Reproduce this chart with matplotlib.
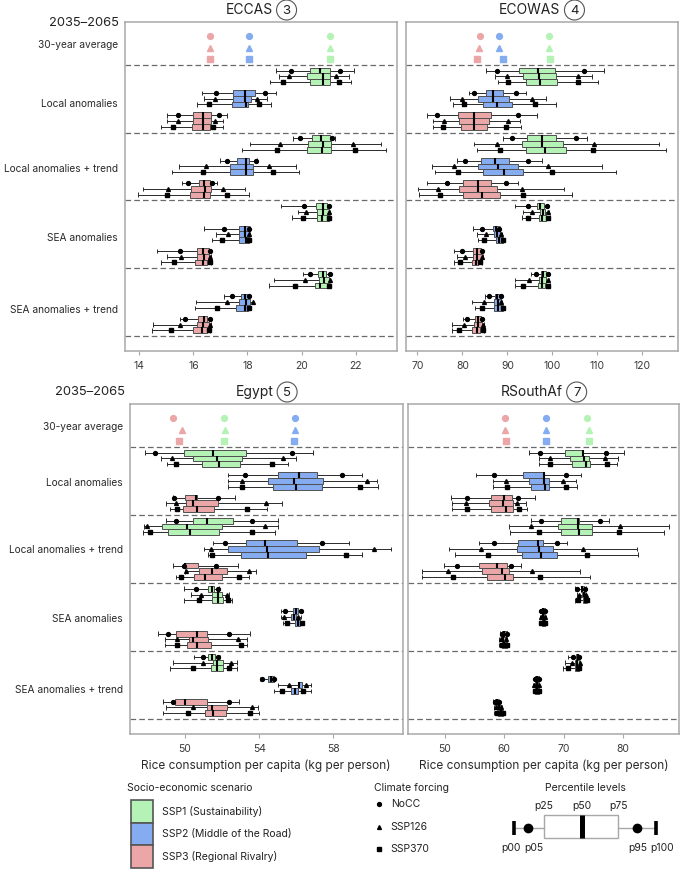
import numpy as np
import matplotlib
matplotlib.use('Agg')
import matplotlib.pyplot as plt
from matplotlib.patches import Rectangle, Circle
from matplotlib.lines import Line2D

plt.rcParams['font.family'] = ['Inter', 'DejaVu Sans']

# ---------------- data ----------------
SECTIONS = ["Local anomalies", "Local anomalies + trend", "SEA anomalies", "SEA anomalies + trend"]
SCENARIOS = ["SSP1 (Sustainability)", "SSP2 (Middle of the Road)", "SSP3 (Regional Rivalry)"]
FORCINGS = ["NoCC", "SSP126", "SSP370"]
PERCENTILES = ["p00", "p05", "p25", "p50", "p75", "p95", "p100"]
REGIONS = ["ECCAS", "ECOWAS", "Egypt", "RSouthAf"]
REGION_NUMBERS = ["3", "4", "5", "7"]
PERIOD = "2035–2065"

# rows: SSP1 x (NoCC, SSP126, SSP370), SSP2 x (...), SSP3 x (...); columns: p00 p05 p25 p50 p75 p95 p100
ECCAS_LOCAL = [
    [19.05, 19.61, 20.30, 20.69, 21.04, 21.43, 21.93],
    [19.15, 19.53, 20.20, 20.79, 21.06, 21.29, 21.74],
    [18.84, 19.33, 20.30, 20.79, 21.06, 21.39, 21.84],
    [16.31, 16.83, 17.48, 17.91, 18.29, 18.63, 19.06],
    [16.40, 16.80, 17.48, 17.91, 18.12, 18.36, 18.74],
    [16.13, 16.59, 17.44, 17.95, 18.01, 18.42, 18.87],
    [15.01, 15.44, 16.00, 16.37, 16.64, 16.93, 17.24],
    [15.04, 15.44, 16.00, 16.37, 16.64, 16.80, 17.11],
    [14.80, 15.24, 15.93, 16.35, 16.62, 16.74, 17.11],
]
ECCAS_LOCAL_TREND = [
    [19.68, 19.95, 20.39, 20.72, 21.06, 21.13, 21.22],
    [18.10, 19.21, 20.22, 20.79, 21.09, 21.89, 22.94],
    [17.81, 19.09, 20.20, 20.76, 21.10, 21.98, 23.11],
    [16.99, 17.24, 17.63, 17.95, 18.04, 18.32, 18.37],
    [15.48, 16.47, 17.36, 17.95, 18.22, 18.81, 19.80],
    [15.20, 16.35, 17.36, 17.94, 18.22, 18.94, 19.91],
    [15.58, 15.81, 16.19, 16.40, 16.62, 16.69, 16.87],
    [14.13, 15.07, 15.90, 16.43, 16.64, 17.11, 17.91],
    [13.94, 15.01, 15.88, 16.40, 16.62, 17.24, 18.04],
]
ECCAS_SEA = [
    [19.25, 20.09, 20.54, 20.79, 20.94, 21.00, 21.06],
    [19.85, 20.15, 20.57, 20.79, 21.00, 21.02, 21.06],
    [19.64, 20.05, 20.57, 20.76, 21.00, 21.02, 21.06],
    [16.41, 17.14, 17.70, 17.91, 18.04, 18.07, 18.10],
    [16.83, 17.27, 17.70, 17.91, 18.04, 18.07, 18.10],
    [16.68, 17.07, 17.70, 17.95, 18.04, 18.07, 18.10],
    [14.67, 15.51, 16.15, 16.37, 16.58, 16.62, 16.66],
    [15.01, 15.54, 16.15, 16.40, 16.58, 16.62, 16.66],
    [14.80, 15.30, 16.06, 16.35, 16.52, 16.62, 16.66],
]
ECCAS_SEA_TREND = [
    [20.07, 20.30, 20.61, 20.79, 20.91, 21.04, 21.06],
    [18.99, 20.14, 20.63, 20.84, 21.00, 21.04, 21.06],
    [18.78, 19.74, 20.48, 20.69, 20.94, 21.00, 21.06],
    [17.14, 17.44, 17.75, 17.91, 18.04, 18.04, 18.07],
    [16.10, 17.24, 17.69, 17.95, 18.10, 18.20, 18.22],
    [16.06, 16.87, 17.57, 17.89, 18.01, 18.04, 18.07],
    [15.51, 15.69, 16.16, 16.40, 16.50, 16.62, 16.66],
    [14.50, 15.51, 16.13, 16.37, 16.56, 16.62, 16.66],
    [14.46, 15.16, 15.98, 16.31, 16.50, 16.56, 16.62],
]
ECOWAS_LOCAL = [
    [85.26, 87.63, 92.59, 96.74, 100.59, 107.11, 111.48],
    [87.33, 89.85, 93.56, 97.11, 100.81, 105.78, 108.89],
    [87.85, 90.22, 94.15, 97.26, 100.96, 105.78, 110.22],
    [81.56, 82.67, 85.19, 86.89, 89.11, 91.93, 94.15],
    [77.26, 79.85, 83.56, 86.74, 90.44, 95.56, 98.52],
    [77.85, 80.37, 84.52, 87.63, 90.96, 96.15, 100.74],
    [72.07, 74.30, 78.96, 82.67, 86.30, 92.30, 96.67],
    [73.56, 75.93, 79.33, 82.67, 85.93, 90.22, 92.81],
    [73.56, 75.78, 79.70, 82.67, 85.41, 89.70, 93.04],
]
ECOWAS_LOCAL_TREND = [
    [89.11, 91.11, 94.44, 97.78, 100.81, 105.26, 107.78],
    [82.67, 87.63, 93.19, 97.63, 102.44, 109.26, 123.78],
    [83.33, 88.37, 94.07, 98.37, 102.96, 109.11, 125.19],
    [78.74, 80.59, 84.07, 87.26, 90.44, 94.67, 97.63],
    [73.19, 78.15, 83.56, 88.00, 92.44, 99.11, 111.11],
    [73.93, 79.11, 84.67, 89.26, 93.41, 100.00, 114.15],
    [72.07, 76.52, 80.07, 83.41, 86.30, 89.70, 92.44],
    [70.22, 74.52, 79.33, 83.56, 87.63, 93.33, 102.67],
    [70.44, 75.04, 80.22, 84.30, 88.37, 93.56, 104.44],
]
ECOWAS_SEA = [
    [91.70, 94.52, 96.67, 97.26, 98.15, 98.74, 99.11],
    [93.56, 95.56, 97.26, 97.85, 98.37, 99.11, 99.33],
    [93.19, 94.52, 97.11, 97.63, 98.59, 99.11, 99.48],
    [82.30, 84.30, 86.74, 87.48, 88.22, 88.22, 88.37],
    [83.33, 85.26, 87.04, 87.63, 88.37, 88.52, 88.74],
    [83.56, 84.89, 87.48, 88.22, 89.11, 89.11, 89.26],
    [78.22, 80.00, 82.44, 83.19, 84.07, 84.30, 84.52],
    [78.74, 80.59, 82.44, 83.33, 84.30, 84.30, 84.52],
    [78.22, 79.48, 82.07, 83.04, 83.56, 83.93, 84.30],
]
ECOWAS_SEA_TREND = [
    [95.19, 96.37, 97.48, 98.00, 98.59, 99.11, 99.33],
    [91.70, 94.81, 97.11, 97.78, 98.59, 99.11, 99.33],
    [91.70, 93.56, 96.74, 97.63, 98.37, 99.11, 99.48],
    [84.96, 85.93, 87.26, 87.78, 88.52, 88.52, 88.59],
    [82.07, 84.81, 87.11, 87.85, 88.59, 88.59, 88.74],
    [82.81, 84.44, 87.11, 88.00, 88.96, 88.96, 89.26],
    [80.07, 80.96, 82.81, 83.41, 84.07, 84.30, 84.52],
    [77.63, 80.44, 82.67, 83.41, 84.30, 84.52, 84.81],
    [77.63, 79.33, 82.07, 83.19, 83.93, 84.52, 84.81],
]
EGYPT_LOCAL = [
    [47.84, 48.38, 49.95, 51.49, 53.27, 55.75, 56.92],
    [48.69, 49.32, 50.45, 51.71, 53.09, 55.30, 55.98],
    [49.05, 49.51, 50.93, 51.83, 52.96, 54.67, 55.57],
    [52.30, 53.23, 55.03, 56.15, 57.13, 58.45, 59.52],
    [52.30, 53.05, 54.49, 55.88, 57.46, 59.79, 60.37],
    [52.30, 53.05, 54.76, 55.98, 57.37, 59.43, 60.42],
    [49.34, 49.41, 50.00, 50.59, 50.63, 51.80, 52.70],
    [48.98, 49.51, 50.04, 50.41, 51.80, 54.35, 55.21],
    [49.19, 49.55, 49.91, 50.66, 51.56, 53.32, 54.40],
]
EGYPT_LOCAL_TREND = [
    [48.96, 49.50, 50.45, 51.17, 52.57, 53.59, 55.03],
    [47.79, 47.93, 48.74, 50.09, 52.01, 54.31, 55.00],
    [47.72, 48.11, 49.10, 50.27, 51.83, 53.59, 54.85],
    [51.49, 52.16, 53.29, 54.31, 56.06, 57.37, 58.86],
    [51.02, 51.38, 52.34, 54.40, 57.22, 60.21, 61.09],
    [51.26, 51.44, 53.00, 54.49, 56.50, 58.66, 59.52],
    [49.37, 49.96, 50.00, 50.02, 50.68, 51.67, 52.84],
    [50.00, 50.05, 50.77, 51.47, 52.28, 53.47, 53.83],
    [49.50, 49.77, 50.50, 51.08, 52.01, 52.93, 53.47],
]
EGYPT_SEA = [
    [49.95, 50.59, 51.26, 51.44, 51.58, 51.80, 51.83],
    [50.31, 50.86, 51.47, 51.80, 51.98, 52.28, 52.39],
    [49.96, 50.77, 51.47, 51.80, 52.07, 52.34, 52.52],
    [55.17, 55.39, 55.84, 55.98, 56.07, 56.25, 56.29],
    [55.17, 55.34, 55.71, 55.88, 55.98, 56.11, 56.25],
    [55.26, 55.48, 55.93, 56.07, 56.20, 56.29, 56.38],
    [48.56, 49.10, 49.50, 50.63, 51.20, 52.39, 53.50],
    [48.92, 49.55, 50.23, 50.45, 51.26, 52.88, 53.36],
    [48.92, 49.55, 50.13, 50.63, 51.38, 53.00, 53.36],
]
EGYPT_SEA_TREND = [
    [50.50, 50.95, 51.26, 51.47, 51.62, 51.80, 51.89],
    [49.34, 50.99, 51.53, 51.74, 52.07, 52.46, 52.79],
    [49.19, 50.41, 51.38, 51.74, 52.03, 52.39, 52.79],
    [54.04, 54.13, 54.49, 54.62, 54.80, 54.80, 54.85],
    [55.03, 55.62, 56.07, 56.15, 56.29, 56.52, 56.77],
    [54.80, 55.21, 55.71, 55.93, 56.11, 56.34, 56.77],
    [48.83, 49.37, 49.46, 50.00, 51.20, 52.39, 52.93],
    [48.96, 50.45, 51.20, 51.44, 52.25, 53.63, 53.95],
    [48.83, 50.18, 51.08, 51.53, 52.19, 53.50, 54.01],
]
RSA_LOCAL = [
    [64.17, 66.02, 70.22, 73.19, 73.31, 77.06, 80.14],
    [65.91, 67.70, 71.06, 73.47, 74.31, 76.95, 79.19],
    [65.91, 67.70, 71.34, 73.75, 74.43, 77.23, 79.02],
    [55.27, 58.29, 63.22, 66.69, 66.75, 70.39, 72.91],
    [58.07, 60.25, 64.23, 66.69, 67.59, 69.94, 72.02],
    [58.07, 60.42, 64.45, 66.86, 67.59, 70.39, 72.18],
    [51.06, 53.70, 57.79, 59.97, 61.26, 62.38, 65.18],
    [51.18, 53.59, 57.51, 59.86, 61.43, 62.10, 63.67],
    [51.29, 53.70, 57.73, 60.25, 61.43, 62.49, 63.78],
]
RSA_LOCAL_TREND = [
    [64.45, 66.13, 69.50, 72.46, 72.58, 76.11, 77.68],
    [60.87, 64.51, 69.10, 72.46, 74.71, 79.47, 87.70],
    [60.98, 65.91, 69.55, 72.63, 74.71, 79.30, 86.92],
    [55.83, 58.35, 62.38, 65.63, 66.58, 68.82, 70.50],
    [50.78, 56.11, 62.10, 65.85, 68.26, 73.31, 82.27],
    [51.74, 57.23, 63.05, 66.13, 68.82, 73.87, 82.44],
    [49.94, 52.02, 55.83, 58.85, 60.42, 61.15, 62.77],
    [46.13, 50.50, 56.22, 59.69, 60.87, 64.73, 72.75],
    [46.13, 51.34, 57.06, 60.14, 61.43, 66.02, 74.43],
]
RSA_SEA = [
    [71.90, 72.18, 72.86, 73.14, 73.50, 73.59, 73.75],
    [72.18, 72.63, 73.03, 73.42, 73.64, 73.70, 73.75],
    [71.90, 72.35, 73.19, 73.59, 73.80, 73.87, 73.92],
    [66.02, 66.19, 66.36, 66.58, 66.81, 66.86, 66.97],
    [66.02, 66.19, 66.36, 66.58, 66.75, 66.86, 66.97],
    [66.13, 66.25, 66.42, 66.64, 66.81, 66.90, 66.97],
    [59.30, 59.58, 59.69, 60.03, 60.42, 60.45, 60.53],
    [59.08, 59.41, 59.58, 59.86, 60.31, 60.36, 60.42],
    [59.19, 59.58, 59.69, 59.97, 60.42, 60.45, 60.53],
]
RSA_SEA_TREND = [
    [70.78, 71.62, 72.07, 72.35, 72.50, 72.55, 72.60],
    [70.22, 71.34, 71.96, 72.30, 72.63, 72.68, 72.75],
    [69.94, 70.78, 71.90, 72.18, 72.52, 72.58, 72.65],
    [65.01, 65.18, 65.20, 65.46, 65.80, 65.85, 65.91],
    [64.90, 65.07, 65.18, 65.46, 65.74, 65.80, 65.91],
    [65.01, 65.18, 65.24, 65.57, 65.85, 65.88, 66.02],
    [58.18, 58.40, 58.46, 58.74, 59.02, 59.10, 59.19],
    [58.29, 58.63, 58.74, 59.13, 59.50, 59.55, 59.58],
    [58.35, 58.74, 59.02, 59.41, 59.75, 59.80, 59.86],
]

# 30-year averages: SSP1, SSP2, SSP3 x (NoCC, SSP126, SSP370)
ECCAS_AVG = [[21.04, 21.04, 21.04], [18.04, 18.04, 18.04], [16.63, 16.63, 16.60]]
ECOWAS_AVG = [[99.19, 99.33, 99.48], [88.22, 88.07, 88.96], [84.00, 83.78, 83.33]]
EGYPT_AVG = [[52.10, 52.16, 52.10], [55.93, 55.93, 55.88], [49.37, 49.82, 49.68]]
RSA_AVG = [[74.00, 74.30, 74.30], [67.00, 67.06, 67.06], [60.20, 60.10, 60.30]]

ECCAS_TICKS = [14, 16, 18, 20, 22]
ECOWAS_TICKS = [70, 80, 90, 100, 110, 120]
EGYPT_TICKS = [50, 54, 58]
RSA_TICKS = [50, 60, 70, 80]

XLABEL = "Rice consumption per capita (kg per person)"

# ---------------- style ----------------
COLORS = ['#b5f2b5', '#85acf0', '#eba7a7']
MARKERS = ['o', '^', 's']
GRAY = '#a8a8a8'
W, H = 681, 871

fig = plt.figure(figsize=(W / 100, H / 100), dpi=100)
overlay = fig.add_axes([0, 0, 1, 1])
overlay.set_xlim(0, W)
overlay.set_ylim(H, 0)
overlay.axis('off')


def px_rect(l, t, r, b):
    return [l / W, 1 - b / H, (r - l) / W, (b - t) / H]


panels = [
    dict(box=(125, 22, 397, 351), xlim=(13.47, 23.53), ticks=ECCAS_TICKS, avg=ECCAS_AVG,
         data=[ECCAS_LOCAL, ECCAS_LOCAL_TREND, ECCAS_SEA, ECCAS_SEA_TREND], left=True, bottom=False,
         labely=[0.57, 0.52, 0.545, 0.60]),
    dict(box=(405.7, 22, 678, 351), xlim=(67.42, 127.9), ticks=ECOWAS_TICKS, avg=ECOWAS_AVG,
         data=[ECOWAS_LOCAL, ECOWAS_LOCAL_TREND, ECOWAS_SEA, ECOWAS_SEA_TREND], left=False, bottom=False),
    dict(box=(129.7, 404, 402.7, 734), xlim=(47.02, 61.74), ticks=EGYPT_TICKS, avg=EGYPT_AVG,
         data=[EGYPT_LOCAL, EGYPT_LOCAL_TREND, EGYPT_SEA, EGYPT_SEA_TREND], left=True, bottom=True,
         labely=[0.51, 0.505, 0.52, 0.555]),
    dict(box=(408.3, 404, 679, 734), xlim=(43.9, 89.4), ticks=RSA_TICKS, avg=RSA_AVG,
         data=[RSA_LOCAL, RSA_LOCAL_TREND, RSA_SEA, RSA_SEA_TREND], left=False, bottom=True),
]

GROUP_CENTERS = [0.17, 0.5, 0.83]
ROW_OFF = [-0.085, 0.0, 0.085]
BOX_H = 0.085
CAP = 0.033
AVG_Y = [-0.42, -0.25, -0.083]


def draw_row(ax, y, p, color, marker):
    p00, p05, p25, p50, p75, p95, p100 = p
    kw = dict(color='#2a2a2a', lw=0.7, zorder=2, solid_capstyle='butt')
    ax.plot([p00, p25], [y, y], **kw)
    ax.plot([p75, p100], [y, y], **kw)
    ax.plot([p00, p00], [y - CAP, y + CAP], **kw)
    ax.plot([p100, p100], [y - CAP, y + CAP], **kw)
    ax.add_patch(Rectangle((p25, y - BOX_H / 2), p75 - p25, BOX_H, facecolor=color,
                           edgecolor='#505050', lw=0.7, zorder=3))
    ax.plot([p50, p50], [y - BOX_H / 2, y + BOX_H / 2], color='black', lw=1.5, zorder=4,
            solid_capstyle='butt')
    ax.plot([p05, p95], [y, y], ls='none', marker=marker, ms=2.8, color='black', zorder=5)


for pn in panels:
    ax = fig.add_axes(px_rect(*pn['box']))
    ax.set_xlim(*pn['xlim'])
    ax.set_ylim(4.22, -0.63)
    for s, sec in enumerate(pn['data']):
        for g in range(3):
            for f in range(3):
                y = s + GROUP_CENTERS[g] + ROW_OFF[f]
                draw_row(ax, y, sec[g * 3 + f], COLORS[g], MARKERS[f])
    for g in range(3):
        for f in range(3):
            ax.plot([pn['avg'][g][f]], [AVG_Y[f]], ls='none', marker=MARKERS[f], ms=4.2,
                    color=COLORS[g], zorder=5)
    for yy in range(5):
        ax.axhline(yy, color='#6a6a6a', lw=0.9, ls=(0, (4.5, 2.5)), zorder=1)
    ax.set_xticks(pn['ticks'])
    ax.tick_params(axis='x', length=3, width=0.8, color=GRAY, labelsize=7.5,
                   labelcolor='#3a3a3a', pad=4)
    for sp in ax.spines.values():
        sp.set_color(GRAY)
        sp.set_linewidth(1.1)
    if pn['left']:
        ax.set_yticks([-0.30] + [i + pn['labely'][i] for i in range(4)])
        ax.set_yticklabels(["30-year average"] + SECTIONS)
        ax.tick_params(axis='y', length=0, labelsize=7.3, labelcolor='#2a2a2a', pad=5)
    else:
        ax.set_yticks([])
    if pn['bottom']:
        ax.set_xlabel(XLABEL, fontsize=8.5, color='#2a2a2a', labelpad=4)

# ---------------- titles ----------------
renderer = fig.canvas.get_renderer()
for pn, name, num in zip(panels, REGIONS, REGION_NUMBERS):
    l, t, r, b = pn['box']
    cx = (l + r) / 2
    ty = 10 if t < 100 else 392
    txt = overlay.text(cx - 12, ty, name, ha='center', va='center', fontsize=10, color='#222')
    w = txt.get_window_extent(renderer).width
    ccx = cx - 12 + w / 2 + 14
    overlay.add_patch(Circle((ccx, ty), 10, fill=False, ec='#555', lw=0.8))
    overlay.text(ccx, ty + 0.5, num, ha='center', va='center', fontsize=9.5, color='#222')

overlay.text(119, 23, PERIOD, ha='right', va='center', fontsize=9.3, color='#222')
overlay.text(125, 392, PERIOD, ha='right', va='center', fontsize=9.3, color='#222')

# ---------------- legends ----------------
overlay.text(127, 788, "Socio-economic scenario", ha='left', va='center', fontsize=7.5, color='#222')
for i, (c, lab) in enumerate(zip(COLORS, SCENARIOS)):
    overlay.add_patch(Rectangle((131, 800 + 22.7 * i), 22, 22.7, facecolor=c, edgecolor='#555', lw=1.2))
    overlay.text(161.7, 811.5 + 22.7 * i, lab, ha='left', va='center', fontsize=7.5, color='#222')

overlay.text(374, 788, "Climate forcing", ha='left', va='center', fontsize=7.5, color='#222')
for i, (m, lab) in enumerate(zip(MARKERS, FORCINGS)):
    overlay.plot([379.3], [804.3 + 22.3 * i], ls='none', marker=m, ms=2.8, color='black')
    overlay.text(390.7, 804.3 + 22.3 * i, lab, ha='left', va='center', fontsize=7.5, color='#222')

overlay.text(585, 788, "Percentile levels", ha='center', va='center', fontsize=7.5, color='#222')
sy = 828.3
overlay.plot([514, 544], [sy, sy], color=GRAY, lw=1.0)
overlay.plot([618.3, 656], [sy, sy], color=GRAY, lw=1.0)
overlay.plot([514, 514], [sy - 7, sy + 7], color='black', lw=2.6, solid_capstyle='butt')
overlay.plot([656, 656], [sy - 7, sy + 7], color='black', lw=2.6, solid_capstyle='butt')
overlay.plot([528.3, 636.7], [sy, sy], ls='none', marker='o', ms=6, color='black')
overlay.add_patch(Rectangle((544, 815), 74.3, 23.3, facecolor='white', edgecolor=GRAY, lw=1.0))
overlay.plot([582.3, 582.3], [815, 838.3], color='black', lw=3.6, solid_capstyle='butt')
for xx, lab in zip([544, 582.3, 618.3], ["p25", "p50", "p75"]):
    overlay.text(xx, 806, lab, ha='center', va='center', fontsize=7.5, color='#222')
for xx, lab in zip([510.8, 533.5, 637.5, 661.7], ["p00", "p05", "p95", "p100"]):
    overlay.text(xx, 848.3, lab, ha='center', va='center', fontsize=7.5, color='#222')

fig.savefig('out.png', dpi=100)
